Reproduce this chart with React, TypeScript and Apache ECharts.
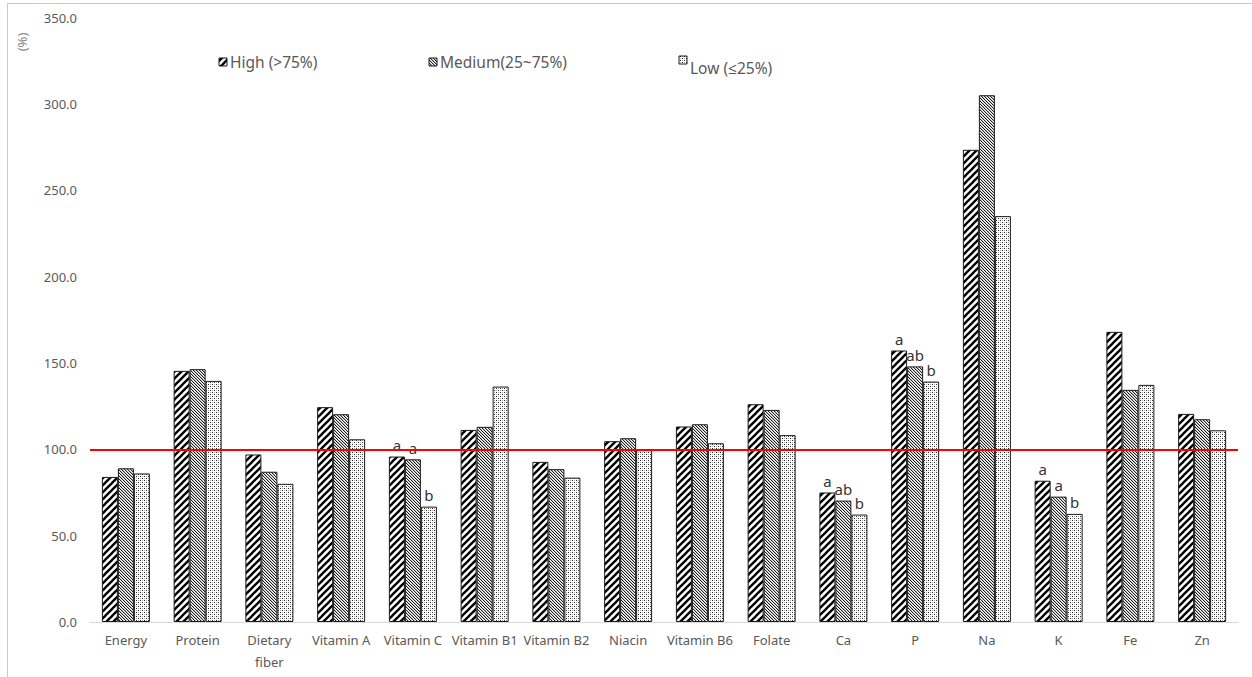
import React, { useEffect, useRef } from "react";
import * as echarts from "echarts";

const categories = [
  "Energy", "Protein", "Dietary\nfiber", "Vitamin A", "Vitamin C", "Vitamin B1", "Vitamin B2", "Niacin",
  "Vitamin B6", "Folate", "Ca", "P", "Na", "K", "Fe", "Zn",
];
const seriesNames = ["High (>75%)", "Medium(25~75%)", "Low (≤25%)"];
const highValues = [84, 145.4, 97, 124.4, 95.8, 111.2, 92.7, 104.7, 113.2, 126.1, 75, 157.2, 273.4, 81.8, 168, 120.5];
const mediumValues = [89, 146.4, 87, 120.3, 94.2, 113, 88.5, 106.4, 114.5, 122.8, 70.3, 148, 305, 72.6, 134.4, 117.4];
const lowValues = [86, 139.6, 80, 105.8, 66.8, 136.3, 83.6, 99.5, 103.5, 108.2, 62.2, 139.2, 235, 62.6, 137.3, 111];
const highLetters = ["", "", "", "", "a", "", "", "", "", "", "a", "a", "", "a", "", ""];
const mediumLetters = ["", "", "", "", "a", "", "", "", "", "", "ab", "ab", "", "a", "", ""];
const lowLetters = ["", "", "", "", "b", "", "", "", "", "", "b", "b", "", "b", "", ""];
const referenceValue = 100;
const yMin = 0;
const yMax = 350;
const yInterval = 50;

function makeHighPattern(): HTMLCanvasElement {
  const c = document.createElement("canvas");
  const s = 7;
  c.width = s;
  c.height = s;
  const ctx = c.getContext("2d")!;
  ctx.fillStyle = "#ffffff";
  ctx.fillRect(0, 0, s, s);
  ctx.strokeStyle = "#000000";
  ctx.lineWidth = 2.3;
  for (const off of [-s, 0, s]) {
    ctx.beginPath();
    ctx.moveTo(off - 1, s + 1);
    ctx.lineTo(off + s + 1, -1);
    ctx.stroke();
  }
  return c;
}

function makeMediumPattern(): HTMLCanvasElement {
  const c = document.createElement("canvas");
  const s = 3;
  c.width = s;
  c.height = s;
  const ctx = c.getContext("2d")!;
  ctx.fillStyle = "#ffffff";
  ctx.fillRect(0, 0, s, s);
  for (let i = 0; i < s; i++) {
    ctx.fillStyle = "#222222";
    ctx.fillRect(i, i, 1, 1);
    ctx.fillStyle = "#bcbcbc";
    ctx.fillRect((i + 1) % s, i, 1, 1);
  }
  return c;
}

function makeLowPattern(): HTMLCanvasElement {
  const c = document.createElement("canvas");
  const s = 4;
  c.width = s;
  c.height = s;
  const ctx = c.getContext("2d")!;
  ctx.fillStyle = "#ffffff";
  ctx.fillRect(0, 0, s, s);
  ctx.fillStyle = "#2a2a2a";
  ctx.fillRect(0, 0, 1, 1);
  ctx.fillRect(2, 2, 1, 1);
  ctx.fillStyle = "#b0b0b0";
  ctx.fillRect(2, 0, 1, 1);
  ctx.fillRect(0, 2, 1, 1);
  return c;
}

export default function App() {
  const ref = useRef<HTMLDivElement>(null);

  useEffect(() => {
    if (!ref.current) return;
    const chart = echarts.init(ref.current, undefined, { renderer: "svg" });
    const patterns = [makeHighPattern(), makeMediumPattern(), makeLowPattern()];
    const fills = patterns.map((p) => ({ image: p, repeat: "repeat" }));
    const valueSets = [highValues, mediumValues, lowValues];
    const letterSets = [highLetters, mediumLetters, lowLetters];
    const font = "'Noto Sans', 'Open Sans', sans-serif";

    const series: any[] = valueSets.map((vals, si) => ({
      name: seriesNames[si],
      type: "bar",
      barWidth: 16,
      barGap: "0%",
      data: vals.map((v, i) => ({
        value: v,
        label: {
          show: letterSets[si][i] !== "",
          formatter: letterSets[si][i],
        },
      })),
      itemStyle: {
        color: fills[si] as any,
        borderColor: "#1a1a1a",
        borderWidth: 1,
      },
      label: {
        position: "top",
        distance: 4,
        fontSize: 15,
        color: "#333333",
        fontFamily: font,
      },
      ...(si === 0
        ? {
            markLine: {
              silent: true,
              symbol: ["none", "none"],
              label: { show: false },
              lineStyle: { color: "#ff0000", width: 2, type: "solid" },
              data: [{ yAxis: referenceValue }],
            },
          }
        : {}),
    }));

    const legendX = [219, 429, 679];
    const legendY = [58, 58, 56];
    const legendTextY = [62, 62, 68];
    const graphic: any[] = [
      {
        type: "rect",
        silent: true,
        shape: { x: 7.5, y: 3.5, width: 1300, height: 700 },
        style: { fill: "none", stroke: "#c8c8c8", lineWidth: 1 },
      },
      {
        type: "text",
        x: 22,
        y: 42,
        rotation: Math.PI / 2,
        style: {
          text: "(%)",
          fontSize: 13,
          fill: "#7f7f7f",
          fontFamily: font,
          align: "center",
          verticalAlign: "middle",
        },
      },
    ];
    seriesNames.forEach((name, i) => {
      graphic.push({
        type: "rect",
        silent: true,
        shape: { x: legendX[i], y: legendY[i], width: 8, height: 8 },
        style: { fill: fills[i], stroke: "#1a1a1a", lineWidth: 1 },
      });
      graphic.push({
        type: "text",
        silent: true,
        x: legendX[i] + 11,
        y: legendTextY[i],
        style: {
          text: name,
          fontSize: 15.5,
          fill: "#595959",
          fontFamily: font,
          verticalAlign: "middle",
        },
      });
    });

    chart.setOption({
      animation: false,
      backgroundColor: "#ffffff",
      grid: { left: 90, right: 14, top: 17.5, bottom: 55, containLabel: false },
      xAxis: {
        type: "category",
        data: categories,
        axisLine: { lineStyle: { color: "#d9d9d9", width: 1 } },
        axisTick: { show: false },
        axisLabel: {
          interval: 0,
          fontSize: 13,
          color: "#595959",
          fontFamily: font,
          lineHeight: 22,
          margin: 7,
        },
      },
      yAxis: {
        type: "value",
        min: yMin,
        max: yMax,
        interval: yInterval,
        axisLine: { show: false },
        axisTick: { show: false },
        splitLine: { show: false },
        axisLabel: {
          formatter: (v: number) => v.toFixed(1),
          fontSize: 13,
          color: "#595959",
          fontFamily: font,
          margin: 13,
        },
      },
      series,
      graphic,
    });
    return () => chart.dispose();
  }, []);

  return (
    <div
      ref={ref}
      style={{ position: "absolute", left: 0, top: 0, width: 1252, height: 677, background: "#fff" }}
    />
  );
}
